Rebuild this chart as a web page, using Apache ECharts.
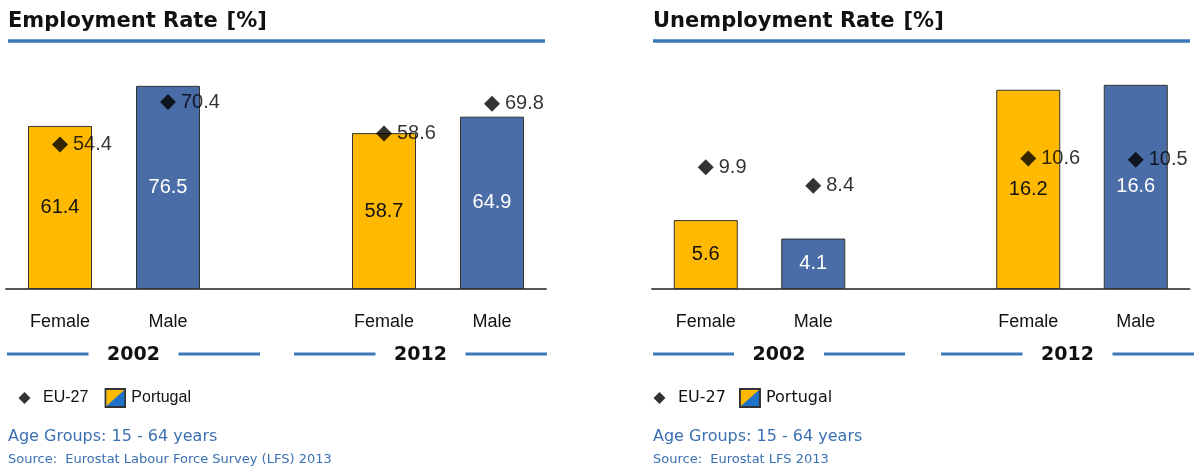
<!DOCTYPE html>
<html>
<head>
<meta charset="utf-8">
<script src="https://cdn.jsdelivr.net/npm/echarts@6/dist/echarts.min.js"></script>
<style>
  html, body { margin: 0; padding: 0; background: #fff; }
  #main { width: 1199px; height: 468px; }
</style>
</head>
<body>
<div id="main"></div>
<script>
// Categories: two years, each with Female / Male, separated by an empty slot
const categories = ['Female', 'Male', '', 'Female', 'Male'];
const years = ['2002', '2012'];

// Employment rate [%]
const employmentPortugal = [61.4, 76.5, null, 58.7, 64.9];
const employmentEU27 = [54.4, 70.4, null, 58.6, 69.8];

// Unemployment rate [%]
const unemploymentPortugal = [5.6, 4.1, null, 16.2, 16.6];
const unemploymentEU27 = [9.9, 8.4, null, 10.6, 10.5];

const YELLOW = '#FFB900';
const BLUE = '#4A6DA7';
const RULE = '#3A78B8';
const TEXT_BLUE = '#3A70B2';

const chart = echarts.init(document.getElementById('main'), null, { renderer: 'canvas' });

// Female bars yellow, male bars blue
function barData(values) {
  return values.map((v, i) => v == null ? null : {
    value: v,
    itemStyle: { color: categories[i] === 'Female' ? YELLOW : BLUE },
    label: { color: categories[i] === 'Female' ? '#111111' : '#ffffff' }
  });
}

// Legend icons: split yellow/blue swatch and a small black diamond
const portugalIcon = 'image://data:image/svg+xml;utf8,' + encodeURIComponent(
  '<svg xmlns="http://www.w3.org/2000/svg" width="22" height="20" viewBox="0 0 22 20">' +
  '<rect x="1" y="1" width="20" height="18" fill="#1E72C8" stroke="#333" stroke-width="2"/>' +
  '<polygon points="2,2 20,2 2,18" fill="#FFB900"/></svg>');
const diamondIcon = 'image://data:image/svg+xml;utf8,' + encodeURIComponent(
  '<svg xmlns="http://www.w3.org/2000/svg" width="22" height="20" viewBox="0 0 22 20">' +
  '<polygon points="8.5,4 14.5,10 8.5,16 2.5,10" fill="#000"/></svg>');

const font = 'Liberation Sans, Arial, sans-serif';
const vfont = 'DejaVu Sans, Verdana, sans-serif';

function xAxisFor(gridIndex) {
  return {
    type: 'category', gridIndex, data: categories,
    axisLine: { lineStyle: { color: '#555', width: 2 } },
    axisTick: { show: false },
    axisLabel: { fontFamily: font, fontSize: 18, color: '#111', margin: 24, interval: 0 }
  };
}
function yAxisFor(gridIndex, max) {
  return {
    type: 'value', gridIndex, min: 0, max,
    show: false, splitLine: { show: false }
  };
}
function barSeries(idx, values) {
  return {
    name: 'Portugal', type: 'bar', xAxisIndex: idx, yAxisIndex: idx,
    data: barData(values), barWidth: 64,
    itemStyle: { color: YELLOW, borderColor: '#333', borderWidth: 1 },
    label: { show: true, position: 'inside', fontFamily: font, fontSize: 20 }
  };
}
function markerSeries(idx, values) {
  return {
    name: 'EU-27', type: 'scatter', xAxisIndex: idx, yAxisIndex: idx,
    data: values, symbol: 'diamond', symbolSize: 16, z: 5,
    itemStyle: { color: '#000' },
    label: { show: true, position: 'right', distance: 5, fontFamily: font, fontSize: 20, color: '#000' }
  };
}
function legendFor(left, family, gap) {
  return {
    left, top: 383, orient: 'horizontal', itemGap: gap,
    itemWidth: 22, itemHeight: 20,
    textStyle: { fontFamily: family, fontSize: 16, color: '#111' },
    data: [{ name: 'EU-27', icon: diamondIcon }, { name: 'Portugal', icon: portugalIcon }]
  };
}

// Horizontal rules and year captions under each chart
const graphics = [];
function rule(x1, x2, y, w) {
  graphics.push({ type: 'line', shape: { x1, y1: y, x2, y2: y }, style: { stroke: RULE, lineWidth: w } });
}
function text(x, y, t, style) {
  graphics.push({ type: 'text', x, y, style: Object.assign({ text: t }, style) });
}
function yearBlock(x0, x1, label) {
  const c = (x0 + x1) / 2;
  rule(x0, c - 45, 354, 3);
  rule(c + 45, x1, 354, 3);
  text(c, 355, label, { font: 'bold 19px ' + vfont, fill: '#111', textAlign: 'center', textVerticalAlign: 'middle' });
}
function footer(x, source) {
  text(x, 437, 'Age Groups: 15 - 64 years', { font: '16px ' + vfont, fill: TEXT_BLUE, textVerticalAlign: 'middle' });
  text(x, 460, source, { font: '13px ' + vfont, fill: TEXT_BLUE, textVerticalAlign: 'middle' });
}

rule(8, 545, 41, 3.5);
rule(653, 1190, 41, 3.5);
yearBlock(7, 260, years[0]);
yearBlock(294, 547, years[1]);
yearBlock(653, 905, years[0]);
yearBlock(941, 1194, years[1]);
footer(8, 'Source:  Eurostat Labour Force Survey (LFS) 2013');
footer(653, 'Source:  Eurostat LFS 2013');

function titleFor(left, main) {
  return {
    left, top: 6,
    text: '{b|' + main + '} {n|[%]}',
    textStyle: {
      rich: {
        b: { fontFamily: vfont, fontWeight: 'bold', fontSize: 21, color: '#111' },
        n: { fontFamily: vfont, fontSize: 21, color: '#111', padding: [0, 0, 0, 4] }
      }
    }
  };
}

chart.setOption({
  animation: false,
  backgroundColor: '#fff',
  title: [titleFor(3, 'Employment Rate'), titleFor(648, 'Unemployment Rate')],
  legend: [legendFor(11, font, 16), legendFor(646, vfont, 13)],
  grid: [
    { left: 6, width: 540, top: 50, height: 239 },
    { left: 652, width: 537.5, top: 43, height: 246 }
  ],
  xAxis: [xAxisFor(0), xAxisFor(1)],
  yAxis: [yAxisFor(0, 90), yAxisFor(1, 20)],
  series: [
    barSeries(0, employmentPortugal),
    markerSeries(0, employmentEU27),
    barSeries(1, unemploymentPortugal),
    markerSeries(1, unemploymentEU27)
  ],
  graphic: graphics
});
</script>
</body>
</html>
